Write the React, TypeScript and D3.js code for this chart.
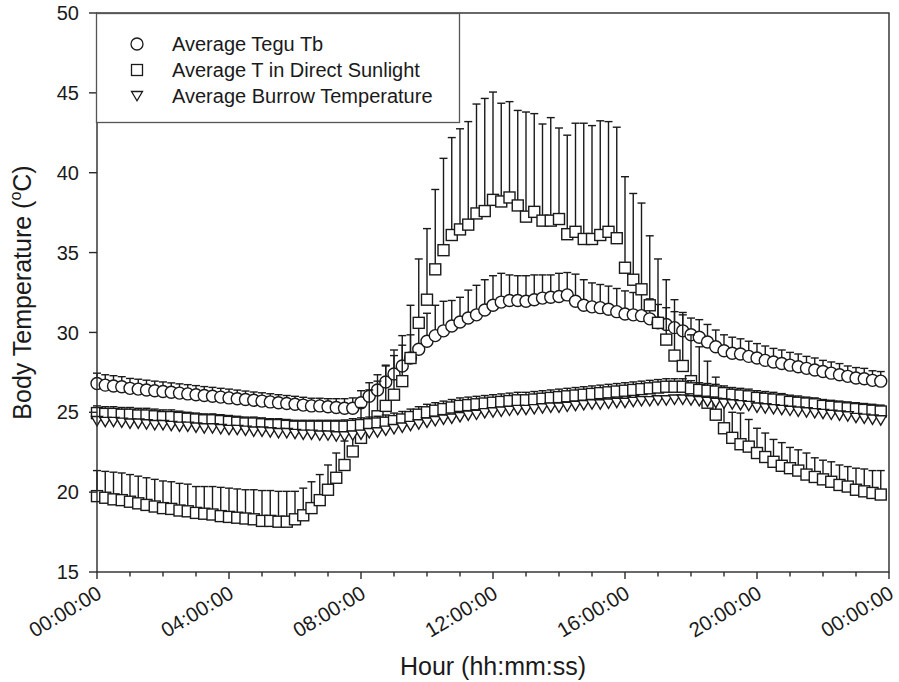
import React, { useEffect, useRef } from "react";
import * as d3 from "d3";

// readings every 15 min, 00:00 .. 23:45
const sampleHours = d3.range(96).map((i) => i / 4);

const teguTb = [
  26.8, 26.7, 26.65, 26.6, 26.5, 26.45, 26.4, 26.35, 26.3, 26.25, 26.2, 26.15, 26.1, 26.05, 26.0, 25.95,
  25.9, 25.85, 25.8, 25.75, 25.7, 25.65, 25.6, 25.55, 25.5, 25.45, 25.4, 25.4, 25.35, 25.3, 25.25, 25.25,
  25.6, 26.0, 26.4, 26.9, 27.4, 27.9, 28.4, 28.95, 29.45, 29.8, 30.1, 30.4, 30.65, 30.9, 31.1, 31.4,
  31.7, 31.9, 32.0, 32.0, 31.95, 32.05, 32.15, 32.2, 32.25, 32.35, 31.95, 31.7, 31.6, 31.55, 31.45, 31.3,
  31.15, 31.1, 31.05, 30.85, 30.6, 30.5, 30.3, 30.1, 29.85, 29.7, 29.4, 29.1, 28.85, 28.7, 28.65, 28.5,
  28.4, 28.25, 28.15, 28.05, 27.95, 27.85, 27.75, 27.65, 27.55, 27.45, 27.35, 27.25, 27.15, 27.1, 27.0, 26.95,
];
const teguTbErr = [
  0.65, 0.65, 0.64, 0.63, 0.62, 0.62, 0.61, 0.6, 0.6, 0.59, 0.58, 0.58, 0.57, 0.56, 0.56, 0.55,
  0.55, 0.54, 0.53, 0.52, 0.52, 0.51, 0.5, 0.5, 0.5, 0.49, 0.48, 0.48, 0.5, 0.55, 0.6, 0.65,
  0.75, 0.85, 0.95, 1.05, 1.15, 1.3, 1.45, 1.6, 1.75, 1.9, 1.85, 1.6, 1.55, 1.75, 1.85, 1.9,
  1.85, 1.8, 1.6, 1.55, 1.6, 1.55, 1.45, 1.4, 1.45, 1.4, 1.7, 1.6, 1.5, 1.45, 1.45, 1.45,
  1.45, 1.4, 1.35, 1.25, 1.15, 1.05, 1.0, 1.0, 1.05, 1.1, 1.1, 1.05, 1.0, 1.0, 0.95, 0.95,
  0.9, 0.9, 0.85, 0.85, 0.8, 0.8, 0.75, 0.75, 0.7, 0.7, 0.7, 0.65, 0.65, 0.65, 0.6, 0.6,
];

const sunT = [
  19.75, 19.65, 19.55, 19.5, 19.4, 19.3, 19.2, 19.1, 19.0, 18.95, 18.85, 18.8, 18.7, 18.65, 18.6, 18.5,
  18.45, 18.4, 18.35, 18.3, 18.2, 18.2, 18.15, 18.15, 18.3, 18.55, 19.0, 19.5, 20.15, 20.9, 21.7, 22.55,
  23.4, 24.2, 24.75, 25.4, 26.1, 26.95, 28.4, 30.6, 32.05, 33.95, 35.15, 36.1, 36.45, 36.75, 37.45, 37.6,
  38.3, 38.2, 38.45, 37.95, 37.25, 37.55, 37.0, 37.0, 37.1, 36.15, 36.3, 35.85, 35.85, 36.1, 36.3, 35.9,
  34.05, 33.3, 32.7, 31.7, 30.6, 29.55, 28.55, 27.9, 26.95, 26.4, 25.6, 24.85, 24.0, 23.4, 23.0, 22.85,
  22.45, 22.2, 21.9, 21.65, 21.5, 21.35, 21.1, 20.95, 20.8, 20.65, 20.45, 20.35, 20.15, 20.05, 19.95, 19.85,
];
const sunTErr = [
  1.6, 1.65, 1.7, 1.7, 1.7, 1.7, 1.7, 1.7, 1.7, 1.7, 1.7, 1.7, 1.65, 1.7, 1.75, 1.8,
  1.8, 1.8, 1.8, 1.85, 1.9, 1.9, 1.9, 1.9, 1.75, 1.7, 1.65, 1.6, 1.55, 1.55, 1.5, 1.5,
  1.9, 2.2, 2.2, 2.5, 2.8, 2.85, 3.3, 4.0, 4.45, 5.0, 5.75, 6.1, 6.3, 6.45, 6.85, 7.05,
  6.75, 6.15, 6.0, 5.95, 6.55, 6.15, 6.05, 6.45, 5.7, 6.2, 6.8, 7.25, 7.1, 7.15, 6.9, 6.95,
  5.7, 5.4, 5.4, 4.35, 4.0, 3.75, 3.5, 3.35, 2.9, 2.7, 2.6, 2.35, 2.2, 1.6, 1.95, 1.7,
  1.55, 1.5, 1.4, 1.45, 1.3, 1.3, 1.35, 1.2, 1.2, 1.25, 1.25, 1.25, 1.35, 1.4, 1.4, 1.5,
];

// unlabelled square series sitting near 25 degC
const shadeT = [
  24.95, 24.9, 24.9, 24.85, 24.85, 24.8, 24.8, 24.75, 24.7, 24.7, 24.65, 24.6, 24.55, 24.5, 24.5, 24.45,
  24.4, 24.35, 24.3, 24.3, 24.25, 24.2, 24.2, 24.15, 24.1, 24.1, 24.1, 24.1, 24.1, 24.1, 24.1, 24.15,
  24.2, 24.25, 24.3, 24.35, 24.45, 24.55, 24.7, 24.85, 25.0, 25.1, 25.2, 25.3, 25.4, 25.45, 25.5, 25.55,
  25.6, 25.65, 25.7, 25.75, 25.75, 25.8, 25.85, 25.9, 25.95, 26.0, 26.05, 26.1, 26.15, 26.2, 26.25, 26.3,
  26.35, 26.4, 26.45, 26.5, 26.55, 26.6, 26.6, 26.6, 26.5, 26.4, 26.35, 26.3, 26.2, 26.1, 26.05, 26.0,
  25.9, 25.85, 25.8, 25.75, 25.65, 25.6, 25.55, 25.5, 25.4, 25.35, 25.3, 25.25, 25.2, 25.15, 25.1, 25.05,
];
const shadeTErr = [
  0.45, 0.45, 0.45, 0.45, 0.45, 0.45, 0.45, 0.45, 0.45, 0.45, 0.42, 0.4, 0.4, 0.4, 0.4, 0.4,
  0.4, 0.4, 0.4, 0.4, 0.4, 0.4, 0.4, 0.4, 0.4, 0.4, 0.4, 0.4, 0.4, 0.4, 0.42, 0.45,
  0.45, 0.45, 0.45, 0.48, 0.5, 0.5, 0.5, 0.5, 0.5, 0.5, 0.5, 0.5, 0.5, 0.5, 0.5, 0.5,
  0.5, 0.5, 0.5, 0.5, 0.5, 0.5, 0.5, 0.5, 0.5, 0.5, 0.5, 0.5, 0.5, 0.5, 0.5, 0.5,
  0.5, 0.5, 0.5, 0.5, 0.5, 0.5, 0.5, 0.5, 0.48, 0.45, 0.45, 0.45, 0.45, 0.45, 0.45, 0.45,
  0.45, 0.45, 0.45, 0.42, 0.42, 0.42, 0.4, 0.4, 0.4, 0.4, 0.4, 0.4, 0.4, 0.4, 0.4, 0.4,
];

const burrowT = [
  24.45, 24.4, 24.4, 24.35, 24.3, 24.3, 24.25, 24.2, 24.2, 24.15, 24.1, 24.1, 24.05, 24.0, 24.0, 23.95,
  23.9, 23.9, 23.85, 23.8, 23.8, 23.75, 23.7, 23.7, 23.65, 23.6, 23.6, 23.55, 23.55, 23.5, 23.5, 23.55,
  23.6, 23.7, 23.75, 23.85, 23.95, 24.05, 24.15, 24.25, 24.35, 24.45, 24.55, 24.6, 24.7, 24.8, 24.85, 24.95,
  25.0, 25.05, 25.1, 25.15, 25.15, 25.2, 25.25, 25.3, 25.3, 25.35, 25.4, 25.45, 25.5, 25.5, 25.55, 25.6,
  25.6, 25.65, 25.7, 25.7, 25.75, 25.75, 25.8, 25.8, 25.75, 25.7, 25.65, 25.6, 25.55, 25.5, 25.45, 25.4,
  25.3, 25.25, 25.2, 25.15, 25.1, 25.05, 25.0, 24.95, 24.9, 24.85, 24.8, 24.75, 24.65, 24.6, 24.55, 24.5,
];
const burrowTErr = [
  0.2, 0.2, 0.2, 0.2, 0.2, 0.2, 0.2, 0.2, 0.2, 0.2, 0.2, 0.2, 0.2, 0.2, 0.2, 0.2,
  0.2, 0.2, 0.2, 0.2, 0.2, 0.2, 0.2, 0.2, 0.2, 0.2, 0.2, 0.2, 0.2, 0.2, 0.2, 0.2,
  0.2, 0.2, 0.2, 0.2, 0.2, 0.2, 0.2, 0.2, 0.2, 0.2, 0.2, 0.2, 0.2, 0.2, 0.2, 0.2,
  0.2, 0.2, 0.2, 0.2, 0.2, 0.2, 0.2, 0.2, 0.2, 0.2, 0.2, 0.2, 0.2, 0.2, 0.2, 0.2,
  0.2, 0.2, 0.2, 0.2, 0.2, 0.2, 0.2, 0.2, 0.2, 0.2, 0.2, 0.2, 0.2, 0.2, 0.2, 0.2,
  0.2, 0.2, 0.2, 0.2, 0.2, 0.2, 0.2, 0.2, 0.2, 0.2, 0.2, 0.2, 0.2, 0.2, 0.2, 0.2,
];

const hourTicks = [0, 4, 8, 12, 16, 20, 24];
const hourMinorTicks = d3.range(0, 25, 1);
const tempTicks = [15, 20, 25, 30, 35, 40, 45, 50];

const legendLabels = [
  "Average Tegu Tb",
  "Average T in Direct Sunlight",
  "Average Burrow Temperature",
];

const FONT = "'Liberation Sans', Arial, sans-serif";
const INK = "#1a1a1a";

type Shape = "circle" | "square" | "triangle";

const App = () => {
  const ref = useRef<SVGSVGElement>(null);

  useEffect(() => {
    const svg = d3.select(ref.current);
    svg.selectAll("*").remove();

    const x = d3.scaleLinear().domain([0, 24]).range([97, 889]);
    const y = d3.scaleLinear().domain([15, 50]).range([572, 13]);

    const drawMarker = (g: any, shape: Shape, cx: number, cy: number) => {
      if (shape === "circle") {
        g.append("circle").attr("cx", cx).attr("cy", cy).attr("r", 6);
      } else if (shape === "square") {
        g.append("rect").attr("x", cx - 5.5).attr("y", cy - 5.5).attr("width", 11).attr("height", 11);
      } else {
        g.append("path").attr("d", `M${cx - 5.5},${cy - 4.5}L${cx + 5.5},${cy - 4.5}L${cx},${cy + 4.8}Z`);
      }
    };

    const drawSeries = (vals: number[], errs: number[], shape: Shape) => {
      const pts = vals.map((v, i) => ({ h: sampleHours[i], v, e: errs[i] }));
      const g = svg.append("g").attr("stroke", INK).attr("stroke-width", 1.4);

      g.selectAll(".bar")
        .data(pts)
        .enter()
        .append("line")
        .attr("x1", (d) => x(d.h))
        .attr("x2", (d) => x(d.h))
        .attr("y1", (d) => y(d.v))
        .attr("y2", (d) => y(d.v + d.e));

      g.selectAll(".cap")
        .data(pts)
        .enter()
        .append("line")
        .attr("x1", (d) => x(d.h) - 4)
        .attr("x2", (d) => x(d.h) + 4)
        .attr("y1", (d) => y(d.v + d.e))
        .attr("y2", (d) => y(d.v + d.e));

      const mg = g.append("g").attr("fill", "#fff").attr("stroke-width", 1.4);
      pts.forEach((d) => drawMarker(mg, shape, x(d.h), y(d.v)));
    };

    drawSeries(teguTb, teguTbErr, "circle");
    drawSeries(sunT, sunTErr, "square");
    drawSeries(shadeT, shadeTErr, "square");
    drawSeries(burrowT, burrowTErr, "triangle");

    // frame
    svg
      .append("rect")
      .attr("x", x(0))
      .attr("y", y(50))
      .attr("width", x(24) - x(0))
      .attr("height", y(15) - y(50))
      .attr("fill", "none")
      .attr("stroke", "#2a2a2a")
      .attr("stroke-width", 1.4);

    // x axis ticks, major every 4 h, minor every hour
    svg
      .append("g")
      .attr("stroke", "#2a2a2a")
      .attr("stroke-width", 1.4)
      .selectAll("line")
      .data(hourMinorTicks)
      .enter()
      .append("line")
      .attr("x1", (d) => x(d))
      .attr("x2", (d) => x(d))
      .attr("y1", y(15))
      .attr("y2", (d) => y(15) + (d % 4 === 0 ? 7 : 4.5));

    const fmtHour = (h: number) => d3.format("02d")(h % 24) + ":00:00";
    svg
      .append("g")
      .selectAll("text")
      .data(hourTicks)
      .enter()
      .append("text")
      .attr("transform", (d) => `translate(${x(d) + 6},${y(15) + 25}) rotate(-31)`)
      .attr("text-anchor", "end")
      .attr("font-family", FONT)
      .attr("font-size", 20.5)
      .attr("fill", INK)
      .text(fmtHour);

    // y axis ticks
    svg
      .append("g")
      .attr("stroke", "#2a2a2a")
      .attr("stroke-width", 1.4)
      .selectAll("line")
      .data(tempTicks)
      .enter()
      .append("line")
      .attr("x1", x(0) - 8)
      .attr("x2", x(0))
      .attr("y1", (d) => y(d))
      .attr("y2", (d) => y(d));

    svg
      .append("g")
      .selectAll("text")
      .data(tempTicks)
      .enter()
      .append("text")
      .attr("x", 79)
      .attr("y", (d) => y(d))
      .attr("dy", "0.36em")
      .attr("text-anchor", "end")
      .attr("font-family", FONT)
      .attr("font-size", 20)
      .attr("fill", INK)
      .text((d) => d);

    // axis titles
    svg
      .append("text")
      .attr("x", (x(0) + x(24)) / 2)
      .attr("y", 675)
      .attr("text-anchor", "middle")
      .attr("font-family", FONT)
      .attr("font-size", 25)
      .attr("fill", INK)
      .text("Hour (hh:mm:ss)");

    const yTitle = svg
      .append("text")
      .attr("transform", `translate(31,${(y(15) + y(50)) / 2}) rotate(-90)`)
      .attr("text-anchor", "middle")
      .attr("font-family", FONT)
      .attr("font-size", 25)
      .attr("fill", INK);
    yTitle.append("tspan").text("Body Temperature (");
    yTitle.append("tspan").attr("font-size", 16).attr("dy", -10).text("o");
    yTitle.append("tspan").attr("dy", 10).text("C)");

    // legend
    const legend = svg.append("g");
    legend
      .append("rect")
      .attr("x", 96.5)
      .attr("y", 13.5)
      .attr("width", 363)
      .attr("height", 109)
      .attr("fill", "#fff")
      .attr("stroke", "#555")
      .attr("stroke-width", 1.3);

    const shapes: Shape[] = ["circle", "square", "triangle"];
    legendLabels.forEach((label, i) => {
      const cy = 44 + i * 26;
      const sg = legend.append("g").attr("fill", "#fff").attr("stroke", INK).attr("stroke-width", 1.3);
      drawMarker(sg, shapes[i], 137, cy);
      legend
        .append("text")
        .attr("x", 172)
        .attr("y", cy + 7)
        .attr("font-family", FONT)
        .attr("font-size", 20)
        .attr("fill", INK)
        .text(label);
    });
  }, []);

  return (
    <svg
      ref={ref}
      width={899}
      height={682}
      style={{ position: "absolute", left: 0, top: 0, background: "#fff" }}
    />
  );
};

export default App;
